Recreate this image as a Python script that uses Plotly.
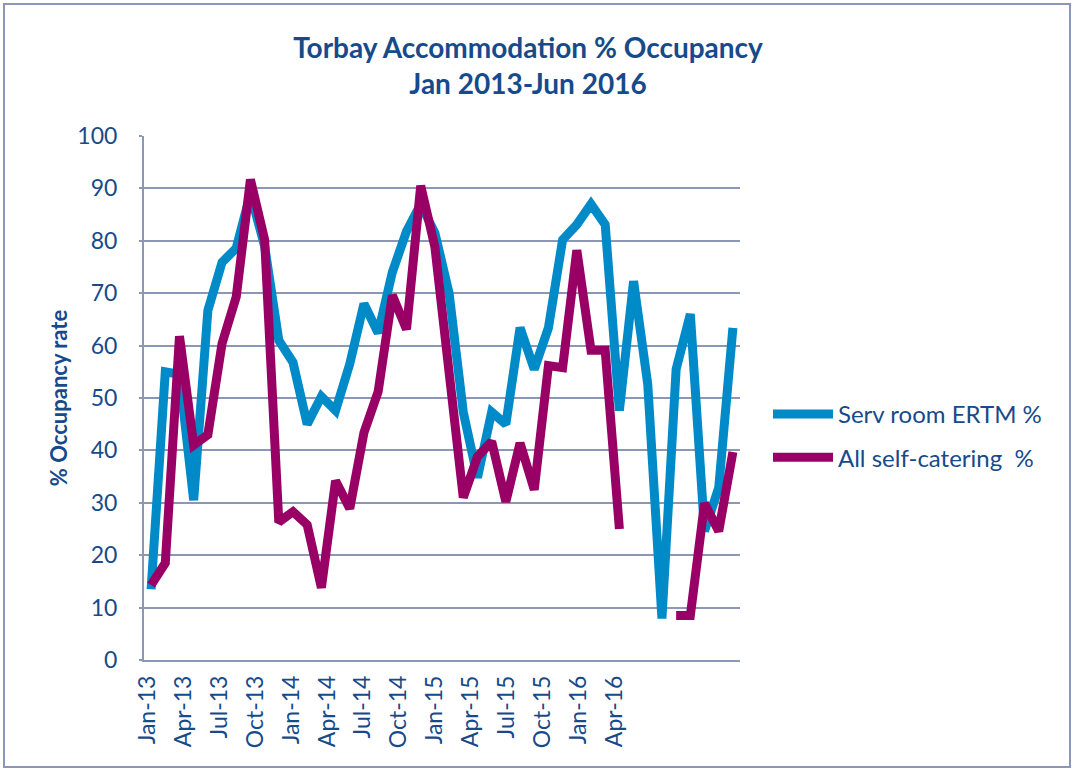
import plotly.graph_objects as go

months = [f"{m}-{y}" for y in ["13", "14", "15", "16"]
          for m in ["Jan", "Feb", "Mar", "Apr", "May", "Jun", "Jul", "Aug", "Sep", "Oct", "Nov", "Dec"]][:42]

serv_room = [13.5, 55, 54.5, 30.5, 66.7, 75.9, 78.6, 89, 79, 61, 56.8, 45,
             50.3, 47.6, 56.5, 68, 62.4, 74, 81.8, 87, 81.5, 70, 47.3, 34.8,
             47.3, 45, 63.4, 55.5, 63.4, 80.2, 83.1, 87, 83.1, 47.6, 72.3, 52.6,
             7.9, 55.5, 66, 24.6, 32.9, 63.4]

self_catering = [14.3, 18.5, 61.8, 41, 43, 60.4, 69.3, 91.7, 80.2, 26.3, 28.3, 25.8,
                 13.8, 34.2, 28.9, 43.4, 51.2, 69.6, 63.1, 90.5, 78.8, 55, 31, 38.8,
                 41.7, 30.2, 41.4, 32.5, 56.2, 55.8, 78.2, 59.1, 59.1, 25, None, None,
                 None, 8.5, 8.5, 29.9, 24.6, 39.7]

tick_labels = ["Jan-13", "Apr-13", "Jul-13", "Oct-13", "Jan-14", "Apr-14", "Jul-14",
               "Oct-14", "Jan-15", "Apr-15", "Jul-15", "Oct-15", "Jan-16", "Apr-16"]

series_names = ["Serv room ERTM %", "All self-catering  %"]

BLUE = "#008AC8"
PURPLE = "#990066"
TEXT = "#174A8B"
GRID = "#8C97B5"
FONT = "Lato"

idx = list(range(len(months)))

fig = go.Figure()
fig.add_trace(go.Scatter(x=idx, y=serv_room, mode="lines", name=series_names[0],
                         line=dict(color=BLUE, width=9), legendgroup="a",
                         customdata=months, connectgaps=False))
fig.add_trace(go.Scatter(x=idx, y=self_catering, mode="lines", name=series_names[1],
                         line=dict(color=PURPLE, width=9), legendgroup="b",
                         customdata=months, connectgaps=False))
# carrier trace for the label axis
fig.add_trace(go.Scatter(x=list(range(len(tick_labels))), y=[None] * len(tick_labels),
                         xaxis="x2", showlegend=False, hoverinfo="skip"))

fig.update_layout(
    width=1072, height=769,
    margin=dict(l=144, r=332, t=136, b=109, autoexpand=False),
    paper_bgcolor="white", plot_bgcolor="white",
    font=dict(family=FONT, color=TEXT, size=23),
    title=dict(text="<b>Torbay Accommodation % Occupancy<br>Jan 2013-Jun 2016</b>",
               font=dict(size=28, color=TEXT, family=FONT),
               x=528 / 1072, xref="container", xanchor="center",
               y=1 - 58 / 769, yref="container", yanchor="top"),
    xaxis=dict(range=[-0.5, 41.5], showticklabels=False, showgrid=False,
               showline=True, linecolor=GRID, linewidth=2, zeroline=False, ticks=""),
    xaxis2=dict(overlaying="x", anchor="y", side="bottom", range=[-0.1, 16.5],
                tickvals=list(range(len(tick_labels))), ticktext=tick_labels,
                tickangle=-90, showgrid=False, showline=False, zeroline=False,
                ticks="", ticklabelstandoff=10, tickfont=dict(size=23, color=TEXT)),
    yaxis=dict(range=[0, 100], dtick=10, showgrid=True, gridcolor=GRID, gridwidth=2,
               showline=True, linecolor=GRID, linewidth=2, zeroline=False,
               ticks="outside", ticklen=3, tickcolor=GRID, tickwidth=2,
               ticklabelstandoff=17, tickfont=dict(size=23, color=TEXT),
               title=dict(text="<b>% Occupancy rate</b>", font=dict(size=22, color=TEXT),
                          standoff=4)),
    legend=dict(x=768 / 1072, xref="container", y=(769 - 392) / 769, yref="container",
                xanchor="left", yanchor="top", bgcolor="rgba(0,0,0,0)",
                font=dict(size=24, color=TEXT), tracegroupgap=9, itemwidth=60),
    showlegend=True,
)

fig.add_shape(type="rect", xref="paper", yref="paper",
              x0=-140 / 596, x1=(1072 - 144 - 2) / 596,
              y0=-(109 - 2) / 524, y1=(524 + 136 - 4) / 524,
              line=dict(color=GRID, width=2), fillcolor="rgba(0,0,0,0)", layer="below")

fig.write_html("out.html", config={"displayModeBar": False},
               post_script="document.body.style.margin='0';")
